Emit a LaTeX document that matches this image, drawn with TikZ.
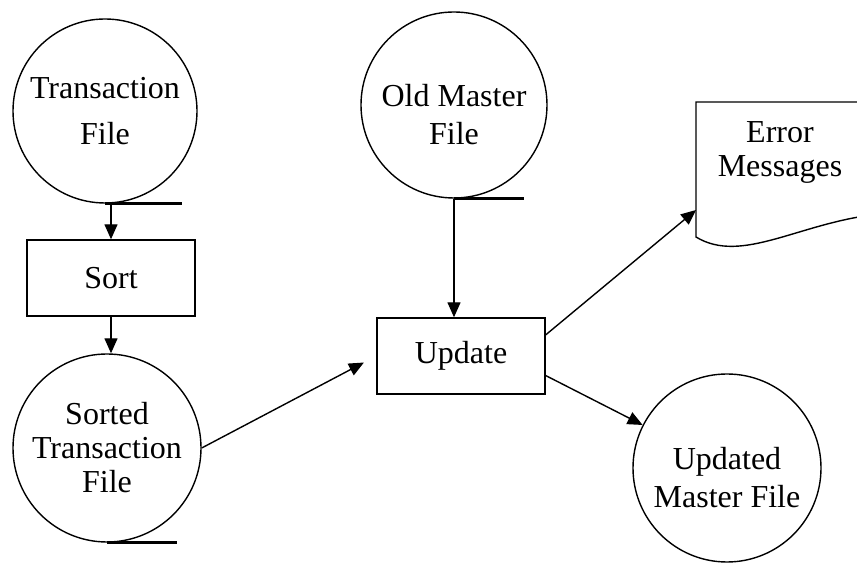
\documentclass[tikz,border=0pt]{standalone}
\usepackage{fontspec}
\setmainfont{Liberation Serif}
\usetikzlibrary{arrows.meta}

\begin{document}
\begin{tikzpicture}[x=0.5pt,y=-0.5pt,line width=0.7pt,
    >={Triangle[length=7.5pt,width=6.5pt]}]
  \tikzstyle{every node}=[font=\fontsize{16}{19}\selectfont, align=center]
  \tikzstyle{every label}=[font=\fontsize{16}{19}\selectfont, align=center]
  \tikzstyle{file}=[circle, draw, inner sep=0pt, minimum size=94pt]
  \tikzstyle{proc}=[rectangle, draw, minimum width=84pt, minimum height=38pt]
  \tikzstyle{tape}=[line width=1.2pt]
  \clip (0,0) rectangle (857,565);

  \node[file,minimum size=92pt] (trans)  at (105,111) {Transaction\\[4pt]File};
  \node[proc]                   (sort)   at (111,278) {Sort};
  \node[file]                   (sorted) at (107,448) {Sorted\\[-2pt]Transaction\\[-2pt]File};
  \node[file,minimum size=93pt,
        label={[yshift=-5pt]center:Old Master\\File}]        (old)    at (454,105) {};
  \node[proc]                   (update) at (461,356) {Update};
  \node[file,
        label={[yshift=-5pt]center:Updated\\Master File}]    (newmst) at (727,468) {};
  \node                         (errors) at (780,152) {Error\\[-2pt]Messages};

  % tape ends of the files
  \draw[tape] (trans.south)  -- ++(77,0);
  \draw[tape] (sorted.south) -- ++(70,0);
  \draw[tape] (old.south)    -- ++(70,0);

  % printed report
  \draw (880,102) -- (696,102) -- (696,237)
    .. controls (742,265) and (800,222) .. (880,214) -- cycle;
  \coordinate (errin) at (696,210);

  \draw[->] (sort.north |- trans.south) -- (sort.north);
  \draw[->] (sort.south) -- (sort.south |- sorted.north);
  \draw[->,shorten >=7pt] (sorted.east) -- (update.west);
  \draw[->] (old.south) -- (old.south |- update.north);
  \draw[->] (update.14) -- (errin);
  \draw[->] (update.-13) -- (newmst);
\end{tikzpicture}
\end{document}
